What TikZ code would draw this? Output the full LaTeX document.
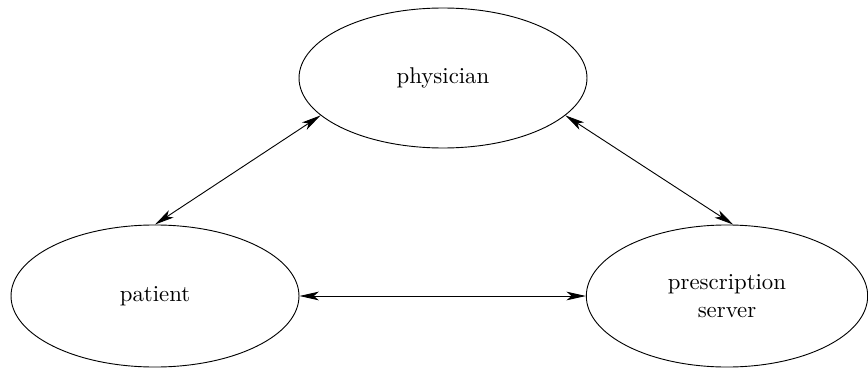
\documentclass[tikz,border=0pt]{standalone}
\usetikzlibrary{arrows.meta,shapes.geometric}
\begin{document}
\begin{tikzpicture}[x=0.4386pt,y=-0.4386pt,
  role/.style={draw, ellipse, inner sep=0pt, line width=0.4pt, align=center, font=\normalsize},
  link/.style={line width=0.4pt, {Stealth[length=8.5pt,width=3.8pt,inset=2.2pt]}-{Stealth[length=8.5pt,width=3.8pt,inset=2.2pt]}}]
  \useasboundingbox (0,0) rectangle (868,368);
  % the three parties
  \node[role, minimum width=126.3pt, minimum height=61.4pt] (physician) at (443,78) {physician};
  \node[role, minimum width=126.3pt, minimum height=62.3pt] (patient) at (155,296) {patient};
  \node[role, minimum width=123.4pt, minimum height=62.3pt] (server) at (727,296) {prescription\\server};
  % two-way links between them
  \draw[link] (physician.197) -- (patient.north);
  \draw[link] (physician.343) -- (server.85);
  \draw[link] (patient.east) -- (server.west);
\end{tikzpicture}
\end{document}
